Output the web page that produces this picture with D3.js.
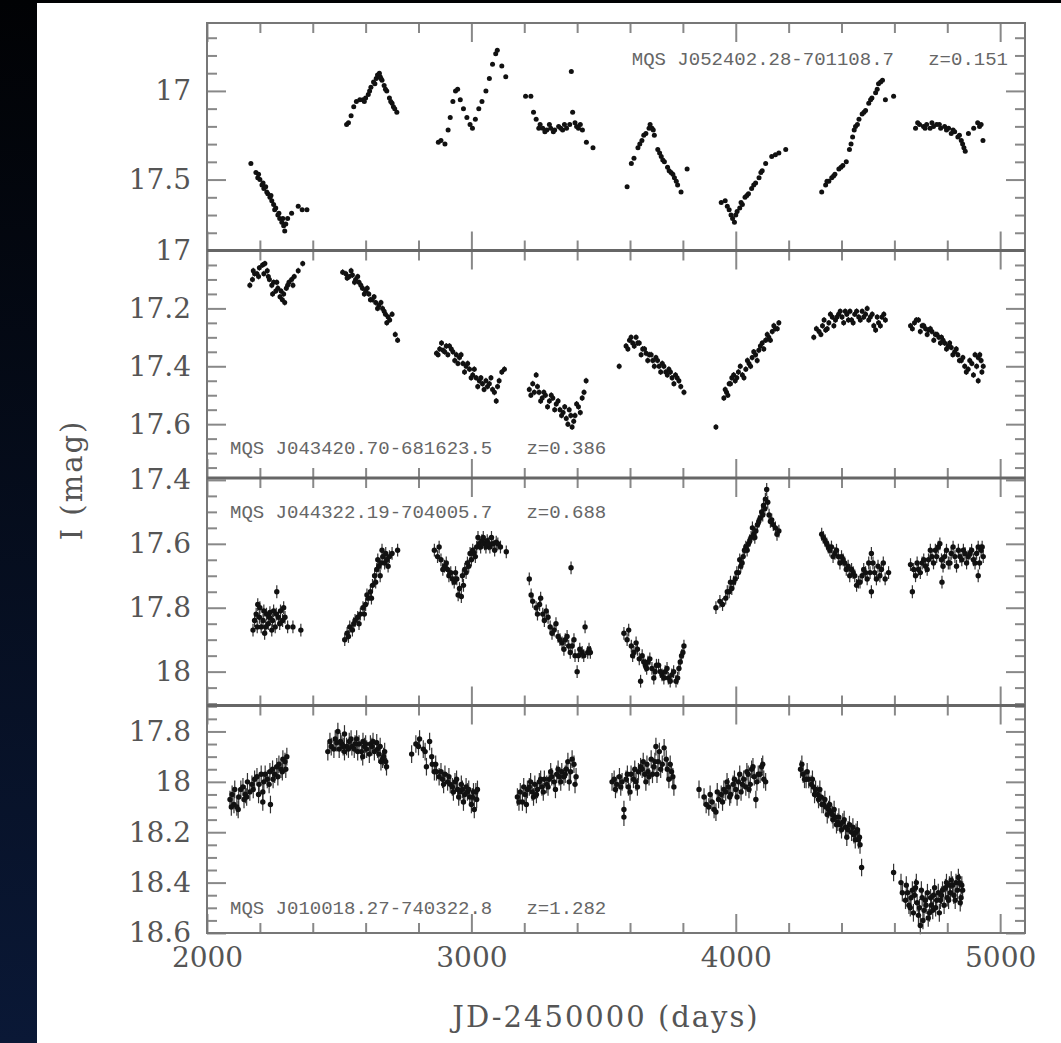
<!DOCTYPE html>
<html>
<head>
<meta charset="utf-8">
<script src="https://cdn.jsdelivr.net/npm/d3@7"></script>
<style>
  body { margin: 0; background: #000; }
  .tick text { font-family: "DejaVu Serif", serif; fill: #555; }
</style>
</head>
<body>
<div id="chart"></div>
<script>
// light curves, [JD-2450000, I mag]
var lc1 = [
  [2166,17.41],[2185,17.46],[2192,17.49],[2200,17.50],[2208,17.53],[2215,17.55],[2222,17.54],[2230,17.58],[2238,17.60],[2245,17.62],[2252,17.64],[2260,17.66],[2268,17.70],[2275,17.72],[2283,17.74],[2290,17.76],[2298,17.75],[2305,17.72],[2320,17.69],[2345,17.65],[2360,17.67],[2378,17.67],
  [2195,17.47],[2212,17.52],[2226,17.57],[2242,17.59],[2256,17.67],[2272,17.69],[2287,17.72],[2294,17.79],
  [2528,17.19],[2535,17.18],[2545,17.14],[2555,17.09],[2565,17.06],[2578,17.05],[2590,17.05],[2600,17.04],[2610,17.02],[2620,16.98],[2630,16.95],[2640,16.93],[2648,16.92],[2655,16.92],[2662,16.94],[2670,16.97],[2680,17.00],[2690,17.04],[2700,17.07],[2710,17.10],[2718,17.12],
  [2595,17.06],[2615,17.00],[2635,16.96],[2645,16.91],[2652,16.90],[2658,16.93],[2675,16.99],[2695,17.06],[2705,17.09],
  [2875,17.29],[2885,17.28],[2900,17.30],[2912,17.22],[2920,17.15],[2930,17.06],[2940,17.00],[2948,16.99],[2958,17.05],[2970,17.10],[2983,17.15],[2995,17.19],[3004,17.21],[3015,17.16],[3028,17.10],[3040,17.06],[3055,17.00],[3068,16.93],[3080,16.85],[3092,16.79],[3098,16.77],[3115,16.86],[3130,16.92],
  [3205,17.03],[3225,17.03],[3235,17.12],[3245,17.16],[3255,17.21],[3270,17.21],[3285,17.22],[3300,17.21],[3315,17.22],[3330,17.20],[3345,17.22],[3360,17.21],[3372,17.19],[3378,16.89],[3383,17.12],[3392,17.18],[3405,17.21],[3420,17.22],[3435,17.29],[3460,17.32],
  [3260,17.19],[3278,17.23],[3295,17.19],[3310,17.23],[3338,17.21],[3352,17.19],[3398,17.20],[3412,17.19],
  [3589,17.54],[3605,17.41],[3615,17.38],[3630,17.32],[3645,17.28],[3660,17.24],[3672,17.21],[3683,17.21],[3692,17.25],[3705,17.33],[3718,17.37],[3730,17.40],[3742,17.43],[3755,17.46],[3768,17.49],[3780,17.53],[3793,17.57],[3816,17.44],
  [3637,17.30],[3652,17.25],[3676,17.19],[3688,17.22],[3712,17.35],[3724,17.39],[3748,17.45],[3762,17.47],[3775,17.51],
  [3945,17.63],[3960,17.62],[3975,17.67],[3988,17.72],[3995,17.74],[4005,17.68],[4015,17.66],[4025,17.64],[4035,17.60],[4048,17.58],[4060,17.55],[4075,17.52],[4088,17.49],[4100,17.45],[4113,17.41],[4136,17.37],[4163,17.35],[4189,17.33],
  [3968,17.65],[3982,17.70],[4000,17.70],[4020,17.63],[4042,17.59],[4068,17.53],[4095,17.46],[4150,17.36],
  [4325,17.57],[4340,17.53],[4352,17.51],[4363,17.49],[4375,17.47],[4390,17.44],[4405,17.42],[4418,17.40],[4430,17.33],[4442,17.26],[4453,17.20],[4466,17.16],[4478,17.13],[4491,17.11],[4503,17.07],[4515,17.04],[4529,17.01],[4540,16.96],[4548,16.95],[4566,17.05],[4597,17.03],
  [4345,17.51],[4370,17.48],[4398,17.43],[4436,17.30],[4448,17.22],[4460,17.19],[4485,17.12],[4510,17.05],[4535,16.99],[4555,16.94],
  [4680,17.21],[4695,17.19],[4710,17.20],[4722,17.19],[4735,17.21],[4748,17.20],[4760,17.19],[4775,17.21],[4790,17.20],[4805,17.21],[4815,17.24],[4828,17.23],[4840,17.26],[4853,17.28],[4863,17.32],[4868,17.34],[4880,17.24],[4900,17.21],[4915,17.18],[4922,17.20],[4935,17.28],
  [4688,17.18],[4716,17.21],[4742,17.18],[4770,17.19],[4797,17.22],[4822,17.22],[4846,17.25],[4858,17.30],[4928,17.19]
];
var lc2 = [
  [2162,17.12],[2172,17.10],[2180,17.08],[2189,17.08],[2198,17.06],[2210,17.05],[2219,17.045],[2228,17.07],[2236,17.10],[2245,17.12],[2252,17.11],[2260,17.14],[2268,17.13],[2276,17.16],[2285,17.17],[2294,17.18],[2300,17.13],[2310,17.11],[2320,17.10],[2330,17.09],[2345,17.07],[2362,17.045],
  [2175,17.07],[2195,17.09],[2215,17.08],[2232,17.09],[2248,17.15],[2264,17.11],[2280,17.14],[2290,17.15],[2305,17.12],[2325,17.12],
  [2513,17.075],[2525,17.08],[2538,17.09],[2550,17.085],[2562,17.10],[2575,17.11],[2588,17.13],[2600,17.14],[2612,17.15],[2625,17.17],[2638,17.18],[2650,17.19],[2664,17.20],[2675,17.22],[2685,17.23],[2691,17.24],[2700,17.22],[2712,17.29],[2721,17.31],
  [2530,17.095],[2545,17.07],[2558,17.11],[2570,17.09],[2582,17.12],[2595,17.15],[2606,17.13],[2618,17.17],[2632,17.16],[2645,17.20],[2658,17.18],[2670,17.21],[2680,17.25],
  [2868,17.355],[2880,17.34],[2893,17.345],[2905,17.33],[2917,17.33],[2930,17.35],[2943,17.36],[2955,17.37],[2968,17.39],[2980,17.40],[2993,17.41],[3005,17.43],[3018,17.44],[3030,17.45],[3042,17.46],[3055,17.45],[3068,17.46],[3080,17.48],[3094,17.52],[3105,17.45],[3115,17.42],[3125,17.41],
  [2874,17.36],[2887,17.32],[2899,17.35],[2911,17.36],[2924,17.34],[2937,17.38],[2949,17.39],[2961,17.36],[2974,17.42],[2986,17.39],[2999,17.44],[3011,17.41],[3024,17.47],[3036,17.44],[3048,17.48],[3061,17.47],[3074,17.44],[3087,17.49],[3099,17.47],
  [3219,17.48],[3232,17.46],[3245,17.43],[3256,17.49],[3268,17.51],[3280,17.50],[3295,17.52],[3308,17.51],[3321,17.53],[3335,17.55],[3347,17.56],[3359,17.58],[3370,17.55],[3381,17.61],[3392,17.57],[3405,17.54],[3419,17.51],[3434,17.45],
  [3225,17.50],[3238,17.49],[3250,17.47],[3262,17.52],[3274,17.49],[3288,17.54],[3302,17.50],[3315,17.55],[3328,17.52],[3341,17.57],[3353,17.54],[3365,17.60],[3376,17.57],[3387,17.59],[3398,17.53],[3412,17.56],[3426,17.49],
  [3559,17.40],[3585,17.33],[3598,17.31],[3610,17.32],[3623,17.30],[3635,17.32],[3648,17.34],[3661,17.355],[3673,17.36],[3686,17.38],[3698,17.37],[3710,17.40],[3722,17.39],[3735,17.42],[3747,17.41],[3759,17.44],[3772,17.43],[3785,17.45],[3804,17.49],
  [3592,17.34],[3604,17.30],[3616,17.33],[3629,17.32],[3642,17.36],[3655,17.34],[3667,17.38],[3680,17.36],[3692,17.40],[3704,17.38],[3716,17.42],[3728,17.40],[3741,17.43],[3753,17.42],[3766,17.46],[3778,17.44],[3792,17.47],
  [3925,17.61],[3955,17.51],[3965,17.49],[3975,17.46],[3985,17.44],[3998,17.45],[4010,17.42],[4025,17.43],[4038,17.41],[4050,17.39],[4062,17.37],[4075,17.36],[4087,17.345],[4100,17.32],[4113,17.31],[4125,17.30],[4138,17.28],[4150,17.27],[4163,17.25],
  [3960,17.48],[3970,17.50],[3980,17.46],[3992,17.43],[4004,17.44],[4017,17.40],[4031,17.44],[4044,17.38],[4056,17.40],[4068,17.35],[4081,17.38],[4093,17.33],[4106,17.34],[4119,17.29],[4131,17.31],[4144,17.26],[4157,17.27],
  [4295,17.30],[4315,17.28],[4328,17.26],[4340,17.275],[4352,17.25],[4365,17.23],[4377,17.24],[4389,17.22],[4402,17.23],[4414,17.21],[4426,17.24],[4438,17.24],[4450,17.22],[4465,17.23],[4478,17.21],[4491,17.22],[4503,17.24],[4516,17.22],[4529,17.275],[4540,17.25],[4553,17.23],[4566,17.24],
  [4305,17.27],[4322,17.29],[4334,17.24],[4346,17.27],[4358,17.22],[4371,17.26],[4383,17.23],[4395,17.21],[4408,17.25],[4420,17.22],[4432,17.21],[4444,17.25],[4457,17.21],[4471,17.24],[4484,17.23],[4497,17.20],[4509,17.23],[4522,17.26],[4535,17.23],[4547,17.26],[4560,17.22],
  [4661,17.26],[4676,17.25],[4691,17.24],[4705,17.26],[4718,17.27],[4729,17.275],[4742,17.28],[4755,17.29],[4768,17.30],[4778,17.30],[4790,17.32],[4803,17.33],[4815,17.335],[4828,17.35],[4840,17.36],[4853,17.38],[4866,17.40],[4879,17.41],[4893,17.39],[4905,17.36],[4917,17.37],[4917,17.45],[4928,17.38],[4936,17.40],
  [4668,17.27],[4683,17.24],[4698,17.28],[4711,17.26],[4724,17.29],[4736,17.27],[4749,17.31],[4761,17.29],[4774,17.32],[4784,17.31],[4797,17.34],[4809,17.32],[4821,17.36],[4834,17.34],[4846,17.38],[4859,17.37],[4872,17.42],[4885,17.38],[4899,17.43],[4911,17.40],[4923,17.36],[4931,17.42]
];
var lc3 = [
  [2174,17.87],[2180,17.84],[2186,17.82],[2192,17.79],[2198,17.83],[2205,17.86],[2212,17.84],[2218,17.88],[2225,17.82],[2232,17.85],[2238,17.815],[2245,17.87],[2252,17.81],[2258,17.86],[2264,17.75],[2270,17.83],[2278,17.81],[2286,17.84],[2295,17.83],[2305,17.86],[2325,17.86],[2355,17.87],
  [2190,17.86],[2200,17.80],[2215,17.81],[2222,17.86],[2236,17.83],[2248,17.84],[2262,17.82],[2275,17.85],[2290,17.80],
  [2521,17.90],[2530,17.88],[2540,17.86],[2550,17.87],[2560,17.84],[2570,17.83],[2580,17.82],[2590,17.80],[2600,17.79],[2610,17.77],[2618,17.75],[2626,17.73],[2634,17.70],[2642,17.68],[2650,17.67],[2658,17.66],[2665,17.64],[2672,17.66],[2680,17.65],[2690,17.64],[2700,17.63],[2721,17.62],
  [2535,17.89],[2555,17.85],[2575,17.85],[2595,17.82],[2605,17.76],[2622,17.77],[2638,17.72],[2646,17.65],[2655,17.70],[2662,17.62],[2676,17.63],[2685,17.67],
  [2860,17.62],[2872,17.64],[2885,17.65],[2898,17.67],[2910,17.68],[2922,17.69],[2935,17.72],[2945,17.71],[2955,17.74],[2962,17.765],[2970,17.73],[2980,17.69],[2990,17.67],[3000,17.65],[3010,17.63],[3020,17.61],[3030,17.60],[3040,17.59],[3050,17.60],[3060,17.59],[3070,17.61],[3082,17.60],[3094,17.595],[3110,17.61],[3132,17.625],
  [2878,17.61],[2892,17.68],[2905,17.66],[2915,17.70],[2928,17.71],[2940,17.69],[2950,17.76],[2966,17.70],[2975,17.68],[2985,17.66],[2995,17.63],[3005,17.62],[3015,17.64],[3025,17.58],[3035,17.61],[3045,17.58],[3055,17.61],[3065,17.60],[3076,17.58],[3088,17.62],[3100,17.60],
  [3219,17.71],[3232,17.78],[3245,17.80],[3258,17.79],[3270,17.82],[3283,17.81],[3298,17.86],[3313,17.87],[3328,17.89],[3343,17.91],[3355,17.90],[3368,17.92],[3377,17.675],[3381,17.92],[3392,17.95],[3400,18.00],[3410,17.93],[3419,17.94],[3430,17.86],[3440,17.94],[3450,17.94],
  [3226,17.76],[3250,17.82],[3262,17.77],[3276,17.84],[3290,17.83],[3305,17.88],[3320,17.85],[3335,17.90],[3350,17.93],[3362,17.89],[3374,17.94],[3388,17.90],[3405,17.95],[3425,17.95],[3445,17.93],
  [3577,17.88],[3589,17.90],[3605,17.92],[3615,17.94],[3623,17.91],[3635,17.96],[3640,18.03],[3646,17.95],[3658,17.98],[3668,17.97],[3683,17.99],[3695,18.00],[3708,17.98],[3721,18.01],[3733,18.00],[3745,18.02],[3758,18.01],[3774,18.03],[3785,17.99],[3795,17.95],[3804,17.92],
  [3595,17.87],[3610,17.95],[3628,17.93],[3652,17.97],[3663,17.99],[3675,17.96],[3690,18.02],[3700,17.98],[3715,18.00],[3728,18.02],[3740,17.99],[3752,18.03],[3765,18.00],[3780,18.02],[3790,17.97],[3800,17.94],
  [3925,17.80],[3940,17.78],[3962,17.77],[3975,17.75],[3985,17.74],[3998,17.71],[4010,17.69],[4019,17.67],[4028,17.64],[4038,17.61],[4048,17.60],[4058,17.58],[4068,17.57],[4076,17.56],[4087,17.53],[4098,17.50],[4105,17.48],[4112,17.46],[4117,17.43],[4126,17.51],[4136,17.525],[4150,17.55],[4163,17.56],
  [3950,17.79],[3968,17.75],[3980,17.72],[3992,17.72],[4004,17.69],[4015,17.65],[4024,17.66],[4033,17.62],[4043,17.62],[4053,17.59],[4063,17.55],[4072,17.58],[4082,17.54],[4092,17.52],[4102,17.51],[4110,17.49],[4121,17.47],[4131,17.53],[4142,17.54],[4156,17.57],
  [4325,17.57],[4338,17.59],[4350,17.61],[4362,17.61],[4375,17.63],[4388,17.64],[4400,17.64],[4412,17.66],[4425,17.67],[4438,17.68],[4450,17.70],[4464,17.72],[4478,17.70],[4491,17.69],[4503,17.66],[4513,17.63],[4513,17.75],[4525,17.69],[4538,17.67],[4551,17.68],[4565,17.71],[4578,17.69],
  [4331,17.58],[4344,17.60],[4356,17.62],[4368,17.64],[4381,17.62],[4394,17.66],[4406,17.65],[4418,17.68],[4431,17.70],[4444,17.69],[4457,17.73],[4470,17.72],[4484,17.68],[4497,17.71],[4508,17.69],[4519,17.66],[4532,17.71],[4545,17.70],[4558,17.66],
  [4661,17.665],[4668,17.75],[4680,17.70],[4691,17.68],[4705,17.66],[4718,17.67],[4729,17.65],[4742,17.64],[4755,17.62],[4766,17.61],[4778,17.65],[4780,17.72],[4790,17.64],[4804,17.66],[4815,17.63],[4829,17.64],[4842,17.62],[4855,17.65],[4867,17.63],[4879,17.64],[4892,17.62],[4905,17.66],[4917,17.61],[4917,17.70],[4928,17.62],[4936,17.64],
  [4673,17.68],[4686,17.66],[4698,17.69],[4711,17.65],[4724,17.68],[4736,17.62],[4748,17.66],[4760,17.64],[4772,17.60],[4784,17.67],[4797,17.62],[4810,17.66],[4822,17.61],[4835,17.67],[4848,17.64],[4861,17.62],[4873,17.66],[4886,17.63],[4899,17.65],[4911,17.63],[4922,17.66],[4932,17.61]
];
var lc4 = [
  [2087,18.07],[2095,18.05],[2102,18.09],[2113,18.10],[2120,18.06],[2128,18.03],[2136,18.02],[2145,18.05],[2153,18.00],[2162,18.04],[2170,18.01],[2180,17.99],[2189,17.98],[2197,18.01],[2205,17.97],[2211,18.04],[2211,18.08],[2220,17.97],[2228,17.99],[2238,17.96],[2248,17.95],[2256,17.97],[2264,17.94],[2272,17.93],[2280,17.95],[2287,17.91],[2295,17.92],[2302,17.90],
  [2092,18.10],[2105,18.03],[2118,18.11],[2140,18.07],[2150,18.06],[2175,18.03],[2195,18.05],[2215,18.00],[2235,18.01],[2250,17.99],[2268,17.98],[2285,17.96],[2298,17.95],[2240,18.09],
  [2457,17.88],[2470,17.86],[2480,17.87],[2491,17.845],[2495,17.80],[2500,17.87],[2510,17.85],[2520,17.88],[2520,17.81],[2528,17.86],[2538,17.84],[2548,17.86],[2557,17.87],[2566,17.83],[2575,17.85],[2584,17.88],[2589,17.90],[2596,17.86],[2604,17.87],[2614,17.89],[2624,17.86],[2633,17.88],[2642,17.845],[2650,17.89],[2658,17.92],[2664,17.91],[2672,17.88],[2679,17.94],
  [2465,17.84],[2485,17.83],[2505,17.84],[2515,17.86],[2535,17.87],[2545,17.83],[2560,17.85],[2570,17.88],[2590,17.84],[2600,17.85],[2618,17.85],[2628,17.84],[2645,17.87],[2655,17.86],[2668,17.90],[2676,17.92],
  [2774,17.89],[2790,17.85],[2804,17.83],[2818,17.87],[2830,17.94],[2842,17.84],[2852,17.93],[2860,17.96],[2868,17.96],[2878,17.98],[2891,17.99],[2900,17.97],[2910,18.00],[2920,18.01],[2928,18.02],[2938,18.00],[2948,18.03],[2957,18.04],[2966,18.03],[2975,18.05],[2985,18.04],[2994,18.06],[3004,18.06],[3011,18.11],[3017,18.04],[3023,18.03],
  [2800,17.86],[2825,17.88],[2850,17.90],[2865,17.93],[2885,17.96],[2895,18.01],[2915,17.98],[2932,18.04],[2944,17.99],[2952,18.06],[2962,18.01],[2970,18.08],[2980,18.02],[2990,18.03],[3000,18.09],[3008,18.04],[3020,18.07],
  [3174,18.06],[3185,18.04],[3193,18.08],[3203,18.05],[3212,18.03],[3219,18.02],[3230,18.04],[3240,18.01],[3250,18.03],[3257,18.00],[3267,18.02],[3276,17.99],[3285,18.01],[3294,17.99],[3304,17.98],[3313,18.00],[3323,17.97],[3332,17.98],[3342,17.96],[3350,17.98],[3359,17.95],[3370,18.00],[3381,17.91],[3388,17.93],[3396,17.98],
  [3180,18.08],[3198,18.02],[3208,18.09],[3224,18.00],[3235,18.06],[3246,18.05],[3262,17.99],[3272,18.04],[3290,18.02],[3300,17.96],[3318,18.03],[3328,17.95],[3338,18.00],[3355,17.97],[3365,17.92],[3375,17.96],[3392,18.01],
  [3532,18.00],[3540,17.99],[3550,18.01],[3560,17.98],[3570,18.00],[3577,18.11],[3577,18.14],[3585,17.99],[3594,18.02],[3604,17.97],[3613,17.99],[3623,18.00],[3632,17.96],[3640,17.94],[3646,17.95],[3656,17.97],[3664,17.93],[3672,17.98],[3680,17.91],[3690,17.94],[3698,17.86],[3706,17.92],[3716,17.95],[3729,17.865],[3737,17.91],[3747,17.99],[3757,17.96],[3766,18.02],
  [3545,18.03],[3565,18.02],[3590,17.97],[3600,18.04],[3618,17.95],[3628,18.02],[3650,17.92],[3660,18.00],[3668,17.96],[3685,17.97],[3694,17.92],[3702,17.97],[3711,17.88],[3722,17.93],[3741,17.95],[3752,17.93],[3762,17.98],
  [3861,18.03],[3880,18.06],[3898,18.10],[3910,18.08],[3925,18.12],[3935,18.07],[3945,18.05],[3955,18.03],[3962,18.04],[3972,18.02],[3981,18.05],[3990,18.01],[4000,18.03],[4010,18.00],[4020,18.04],[4030,17.99],[4038,18.02],[4047,17.97],[4055,18.01],[4060,17.95],[4070,17.98],[4076,18.07],[4085,17.97],[4098,17.94],[4106,17.99],[4113,18.00],
  [3888,18.09],[3903,18.05],[3918,18.11],[3930,18.04],[3950,18.08],[3967,18.00],[3977,18.06],[3995,17.99],[4005,18.06],[4015,17.97],[4025,18.01],[4042,17.96],[4050,18.03],[4065,17.94],[4080,18.00],[4092,17.97],[4102,17.93],
  [4245,17.95],[4255,17.97],[4266,17.99],[4276,17.99],[4285,18.01],[4294,18.02],[4302,18.03],[4310,18.05],[4313,18.07],[4322,18.06],[4332,18.09],[4341,18.10],[4351,18.11],[4360,18.12],[4368,18.15],[4377,18.14],[4386,18.16],[4395,18.17],[4405,18.16],[4415,18.18],[4425,18.19],[4438,18.20],[4447,18.21],[4455,18.20],[4464,18.23],[4470,18.25],[4476,18.34],
  [4250,17.93],[4260,17.99],[4270,17.96],[4290,17.99],[4298,18.05],[4318,18.03],[4326,18.09],[4337,18.07],[4346,18.13],[4355,18.09],[4365,18.13],[4372,18.11],[4381,18.17],[4390,18.14],[4400,18.19],[4410,18.15],[4420,18.22],[4430,18.17],[4443,18.18],[4452,18.23],[4460,18.19],[4468,18.22],
  [4597,18.36],[4625,18.40],[4642,18.47],[4650,18.44],[4660,18.50],[4668,18.43],[4680,18.42],[4686,18.48],[4691,18.53],[4698,18.57],[4705,18.46],[4712,18.51],[4717,18.47],[4725,18.44],[4733,18.52],[4740,18.49],[4748,18.45],[4756,18.50],[4766,18.44],[4774,18.47],[4782,18.43],[4793,18.42],[4800,18.46],[4808,18.41],[4815,18.39],[4825,18.45],[4833,18.40],[4842,18.38],[4849,18.48],[4855,18.41],
  [4630,18.44],[4645,18.41],[4655,18.49],[4663,18.46],[4672,18.52],[4676,18.45],[4683,18.40],[4695,18.50],[4702,18.43],[4708,18.55],[4720,18.49],[4728,18.54],[4737,18.46],[4745,18.51],[4752,18.42],[4760,18.47],[4770,18.52],[4778,18.45],[4788,18.49],[4797,18.40],[4805,18.47],[4812,18.44],[4820,18.41],[4830,18.47],[4838,18.43],[4846,18.40],[4852,18.46],[4858,18.43]
];

// typical photometric errors (mag) per object
var errs = [0.004, 0.01, 0.02, 0.035];

var names = [
  "MQS J052402.28-701108.7   z=0.151",
  "MQS J043420.70-681623.5   z=0.386",
  "MQS J044322.19-704005.7   z=0.688",
  "MQS J010018.27-740322.8   z=1.282"
];

// y ranges (bright at top) and labelled ticks
var yDomains = [[16.617, 17.9], [17.0, 17.786], [17.394, 18.106], [17.697, 18.6]];
var yLabels = [[17, 17.5], [17, 17.2, 17.4, 17.6], [17.4, 17.6, 17.8, 18], [17.8, 18, 18.2, 18.4, 18.6]];
var yMinorStep = [0.1, 0.05, 0.05, 0.05];

var xDomain = [2000, 5094];
var xLabels = [2000, 3000, 4000, 5000];

var W = 1061, H = 1043;
var plotL = 207, plotR = 1025, plotT = 23, plotB = 933;
var panelH = (plotB - plotT) / 4;

var svg = d3.select("#chart").append("svg")
  .attr("width", W).attr("height", H);

// dark surround like the slide it came from
var grad = svg.append("defs").append("linearGradient")
  .attr("id", "bg").attr("x1", 0).attr("y1", 0).attr("x2", 0).attr("y2", 1);
grad.append("stop").attr("offset", "0%").attr("stop-color", "#010204");
grad.append("stop").attr("offset", "100%").attr("stop-color", "#0a1836");
svg.append("rect").attr("width", W).attr("height", H).attr("fill", "url(#bg)");
svg.append("rect").attr("x", 37).attr("y", 3).attr("width", W - 37).attr("height", H - 3).attr("fill", "#fff");

var x = d3.scaleLinear().domain(xDomain).range([plotL, plotR]);
var xMinor = d3.range(2000, 5094, 200).filter(function(v) { return v % 1000 !== 0; });

var data = [lc1, lc2, lc3, lc4];

data.forEach(function(lc, i) {
  var y0 = plotT + i * panelH, y1 = y0 + panelH;
  var y = d3.scaleLinear().domain(yDomains[i]).range([y0, y1]);
  var g = svg.append("g");

  var minor = d3.range(Math.ceil(yDomains[i][0] / yMinorStep[i]) * yMinorStep[i], yDomains[i][1] + 1e-6, yMinorStep[i])
    .map(function(v) { return +v.toFixed(2); })
    .filter(function(v) { return yLabels[i].indexOf(v) < 0; });
  var major = yLabels[i].filter(function(v) { return v >= yDomains[i][0] && v <= yDomains[i][1]; });

  // left axis with labels, ticks pointing inward
  g.append("g").attr("transform", "translate(" + plotL + ",0)")
    .call(d3.axisLeft(y).tickValues(major).tickSize(-19).tickPadding(16)
      .tickFormat(function(v) { return String(+v.toFixed(2)); }));
  g.append("g").attr("transform", "translate(" + plotL + ",0)")
    .call(d3.axisLeft(y).tickValues(minor).tickSize(-10).tickFormat(""));
  g.append("g").attr("transform", "translate(" + plotR + ",0)")
    .call(d3.axisRight(y).tickValues(major).tickSize(-19).tickFormat(""));
  g.append("g").attr("transform", "translate(" + plotR + ",0)")
    .call(d3.axisRight(y).tickValues(minor).tickSize(-10).tickFormat(""));

  // top / bottom ticks
  g.append("g").attr("transform", "translate(0," + y0 + ")")
    .call(d3.axisTop(x).tickValues(xLabels).tickSize(-19).tickFormat(""));
  g.append("g").attr("transform", "translate(0," + y0 + ")")
    .call(d3.axisTop(x).tickValues(xMinor).tickSize(-10).tickFormat(""));
  g.append("g").attr("transform", "translate(0," + y1 + ")")
    .call(d3.axisBottom(x).tickValues(xLabels).tickSize(-19).tickPadding(14)
      .tickFormat(i === 3 ? d3.format("d") : ""));
  g.append("g").attr("transform", "translate(0," + y1 + ")")
    .call(d3.axisBottom(x).tickValues(xMinor).tickSize(-10).tickFormat(""));

  g.selectAll(".domain").remove();
  g.selectAll(".tick line").attr("stroke", "#888").attr("stroke-width", 2);
  g.selectAll(".tick text").attr("font-size", 28);

  // error bars + points
  var pts = g.append("g");
  pts.selectAll("line.err").data(lc).enter().append("line")
    .attr("x1", function(d) { return x(d[0]); })
    .attr("x2", function(d) { return x(d[0]); })
    .attr("y1", function(d) { return y(d[1] - errs[i]); })
    .attr("y2", function(d) { return y(d[1] + errs[i]); })
    .attr("stroke", "#333").attr("stroke-width", 1.2);
  pts.selectAll("circle").data(lc).enter().append("circle")
    .attr("cx", function(d) { return x(d[0]); })
    .attr("cy", function(d) { return y(d[1]); })
    .attr("r", i < 2 ? 2.5 : 2.7)
    .attr("fill", "#111");

  // object name
  var lab = g.append("text")
    .attr("font-family", "Liberation Mono, monospace")
    .attr("font-size", 19)
    .attr("fill", "#666")
    .attr("xml:space", "preserve")
    .text(names[i]);
  if (i === 0) {
    lab.attr("x", 1008).attr("y", 65).attr("text-anchor", "end");
  } else {
    var ty = [0, 454, 518, 914][i];
    lab.attr("x", 230).attr("y", ty);
  }
});

// frame and panel dividers
svg.append("rect")
  .attr("x", plotL).attr("y", plotT)
  .attr("width", plotR - plotL).attr("height", plotB - plotT)
  .attr("fill", "none").attr("stroke", "#777").attr("stroke-width", 2);
[1, 2, 3].forEach(function(k) {
  svg.append("line")
    .attr("x1", plotL).attr("x2", plotR)
    .attr("y1", plotT + k * panelH).attr("y2", plotT + k * panelH)
    .attr("stroke", "#666").attr("stroke-width", 3);
});

// axis titles
svg.append("text")
  .attr("x", 606).attr("y", 1027)
  .attr("text-anchor", "middle")
  .attr("font-family", "DejaVu Serif, serif")
  .attr("font-size", 29)
  .attr("letter-spacing", 2)
  .attr("fill", "#555")
  .text("JD-2450000 (days)");

svg.append("text")
  .attr("transform", "translate(82,480) rotate(-90)")
  .attr("text-anchor", "middle")
  .attr("font-family", "DejaVu Serif, serif")
  .attr("font-size", 29)
  .attr("letter-spacing", 2)
  .attr("fill", "#555")
  .text("I (mag)");
</script>
</body>
</html>
